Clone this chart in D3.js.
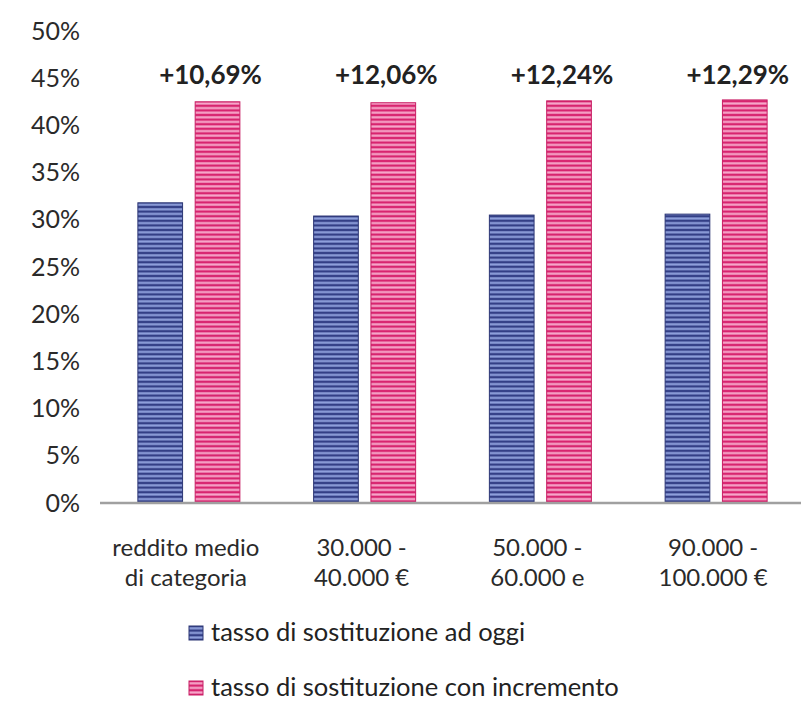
<!DOCTYPE html>
<html><head><meta charset="utf-8">
<script src="https://cdn.jsdelivr.net/npm/d3@7"></script>
<style>body{margin:0;background:#fff}svg{display:block}</style>
</head><body>
<script>
const categories = [["reddito medio","di categoria"],["30.000 -","40.000 €"],["50.000 -","60.000 e"],["90.000 -","100.000 €"]];
const seriesNames = ["tasso di sostituzione ad oggi","tasso di sostituzione con incremento"];
const valuesOggi = [31.8, 30.4, 30.5, 30.6];
const valuesIncremento = [42.5, 42.4, 42.6, 42.7];
const increments = ["+10,69%","+12,06%","+12,24%","+12,29%"];
const yTicks = [0,5,10,15,20,25,30,35,40,45,50];

const W = 801, H = 702;
const svg = d3.select("body").append("svg").attr("width", W).attr("height", H);
const font = "Lato, 'Open Sans', sans-serif";

const defs = svg.append("defs");
function stripes(id, dark, light){
  const p = defs.append("pattern").attr("id", id).attr("patternUnits","userSpaceOnUse")
    .attr("width", 8).attr("height", 4.6);
  p.append("rect").attr("width",8).attr("height",4.6).attr("fill", dark);
  p.append("rect").attr("y",1.2).attr("width",8).attr("height",2.2).attr("fill", light);
}
stripes("pBlue", "#333f86", "#8e9fdb");
stripes("pPink", "#d8246f", "#f6a6c9");
const fills = ["url(#pBlue)","url(#pPink)"];
const strokes = ["#2c3675","#c81e64"];

const x0 = d3.scaleBand().domain(d3.range(categories.length)).range([101, 804]).paddingInner(0).paddingOuter(0);
const x1 = d3.scaleBand().domain([0,1]).range([0, 102]).paddingInner(0.22);
const groupOffset = (x0.bandwidth() - 102) / 2;
const y = d3.scaleLinear().domain([0, 50]).range([503, 31]);

// y axis labels
const yAxis = d3.axisLeft(y).tickValues(yTicks).tickFormat(d => d + "%").tickSize(0).tickPadding(0);
const ga = svg.append("g").attr("transform","translate(80,0)").call(yAxis);
ga.select(".domain").remove();
ga.selectAll("text").attr("font-family", font).attr("font-size", 25).attr("fill","#2a2a2a");

// bars
const groups = svg.selectAll("g.grp").data(categories).join("g").attr("class","grp")
  .attr("transform", (d,i) => `translate(${x0(i)+groupOffset},0)`);
const series = [valuesOggi, valuesIncremento];
groups.each(function(d,i){
  const g = d3.select(this);
  series.forEach((vals, s) => {
    g.append("rect").attr("x", x1(s)).attr("width", x1.bandwidth())
      .attr("y", y(vals[i])).attr("height", y(0) - y(vals[i]))
      .attr("fill", fills[s]).attr("stroke", strokes[s]).attr("stroke-width", 1);
  });
});

// baseline
svg.append("line").attr("x1", 100).attr("x2", 801).attr("y1", y(0)).attr("y2", y(0))
  .attr("stroke", "#a0a0a0").attr("stroke-width", 2.5);

// increment annotations
svg.selectAll("text.inc").data(increments).join("text").attr("class","inc")
  .attr("x", (d,i) => x0(i) + groupOffset + x1(1) + x1.bandwidth()/2 - 7)
  .attr("y", 84).attr("text-anchor","middle")
  .attr("font-family", font).attr("font-weight","bold").attr("font-size", 26).attr("fill","#222")
  .text(d => d);

// category labels
const cl = svg.selectAll("text.cat").data(categories).join("text").attr("class","cat")
  .attr("text-anchor","middle").attr("font-family", font).attr("font-size", 24).attr("fill","#2a2a2a");
cl.each(function(d,i){
  const t = d3.select(this);
  const cx = x0(i) + x0.bandwidth()/2 - 3;
  d.forEach((line, k) => t.append("tspan").attr("x", cx).attr("y", 556 + k*30).text(line));
});

// legend
const lg = svg.selectAll("g.leg").data(seriesNames).join("g").attr("class","leg")
  .attr("transform", (d,i) => `translate(189,${626 + i*55})`);
lg.append("rect").attr("width", 14).attr("height", 14).attr("fill", (d,i)=>fills[i])
  .attr("stroke", (d,i)=>strokes[i]).attr("stroke-width",1);
lg.append("text").attr("x", 22).attr("y", 15).attr("font-family", font).attr("font-size", 25.5)
  .attr("fill","#222").text(d => d);
</script>
</body></html>
